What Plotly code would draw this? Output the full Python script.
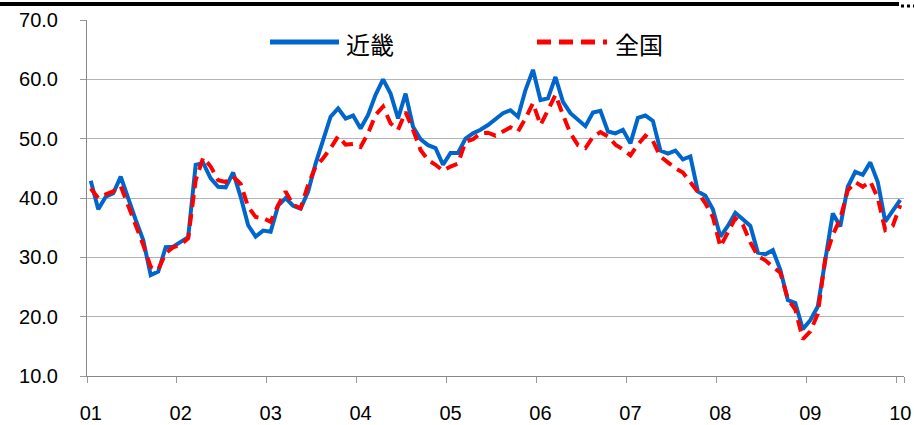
import plotly.graph_objects as go

# monthly, Jan 2001 - Jan 2010
months = [f"{y:02d}/{m:02d}" for y in range(1, 11) for m in range(1, 13)][:109]

kinki = [
    42.9, 38.1, 40.2, 40.8, 43.6, 39.7, 36.3, 32.9, 27.0, 27.6, 31.7, 31.8,
    32.6, 33.4, 45.6, 45.9, 43.3, 41.9, 41.8, 44.3, 40.2, 35.4, 33.5, 34.5,
    34.3, 38.7, 40.0, 38.7, 38.2, 41.1, 45.8, 49.8, 53.7, 55.1, 53.4, 53.9,
    51.7, 54.0, 57.4, 60.0, 57.6, 53.4, 57.6, 52.0, 49.9, 48.9, 48.4, 45.6,
    47.6, 47.6, 50.0, 50.9, 51.5, 52.3, 53.2, 54.3, 54.8, 53.7, 58.2, 61.6,
    56.5, 56.8, 60.4, 56.2, 54.3, 53.3, 52.1, 54.4, 54.7, 51.2, 50.9, 51.5,
    49.2, 53.5, 53.9, 53.0, 48.0, 47.5, 48.0, 46.5, 47.0, 41.1, 40.4, 38.1,
    33.5, 35.3, 37.5, 36.4, 35.3, 30.8, 30.5, 31.2, 27.9, 22.8, 22.3, 17.9,
    19.4, 21.7, 30.1, 37.4, 35.2, 41.9, 44.4, 43.9, 46.0, 42.7, 36.0, 38.0,
    39.7,
]

zenkoku = [
    41.6, 40.0, 40.6, 41.1, 42.0, 38.5, 35.4, 32.1, 28.4, 27.9, 30.7, 31.7,
    32.1, 33.2, 43.0, 46.8, 45.3, 43.0, 42.7, 43.6, 42.4, 38.5, 36.8, 36.6,
    36.0, 38.8, 41.1, 38.8, 38.3, 42.2, 45.3, 46.7, 48.4, 50.4, 49.0, 49.1,
    48.6, 50.9, 54.0, 55.4, 52.6, 51.5, 54.5, 51.5, 48.1, 46.4, 45.6, 44.6,
    45.3, 45.8, 49.5, 49.9, 50.9, 51.0, 50.5, 51.2, 51.9, 51.2, 53.4, 56.0,
    52.3, 54.8, 57.4, 54.0, 50.9, 48.9, 48.4, 50.3, 51.1, 50.4, 49.0, 48.2,
    47.2, 49.0, 50.5, 49.6, 47.0, 46.0, 45.0, 44.3, 42.7, 41.0, 39.1, 36.8,
    31.8, 34.3, 36.6, 35.5, 32.5, 30.2, 29.5, 28.4, 27.4, 23.0, 21.2, 16.2,
    17.5, 20.5, 29.8, 33.8, 36.5, 41.3, 42.7, 41.9, 42.8, 40.0, 34.6, 35.3,
    38.8,
]

year_labels = ["01", "02", "03", "04", "05", "06", "07", "08", "09", "10"]

blue = "#0066CC"
red = "#FF0000"

fig = go.Figure()
fig.add_trace(go.Scatter(x=months, y=kinki, mode="lines", name="近畿",
                         line=dict(color=blue, width=4)))
fig.add_trace(go.Scatter(x=months, y=zenkoku, mode="lines", name="全国",
                         line=dict(color=red, width=4, dash="12px,7px")))

fig.update_layout(
    width=914, height=425,
    margin=dict(l=87, r=10, t=20, b=49),
    paper_bgcolor="white", plot_bgcolor="white",
    showlegend=False,
    font=dict(family="Liberation Sans, Arial, sans-serif", size=20, color="black"),
)

fig.update_xaxes(
    type="category", range=[-0.5, 108.5], automargin=False,
    tickmode="array", tickvals=months[::12], ticktext=year_labels, tickangle=0,
    tickson="boundaries", ticks="outside", ticklen=6, tickcolor="#999999",
    showline=True, linecolor="#888888", linewidth=1,
    showgrid=False, ticklabelstandoff=19,
)
fig.update_yaxes(
    range=[10, 70], dtick=10, tickformat=".1f", automargin=False,
    ticks="outside", ticklen=6, tickcolor="#999999",
    showline=True, linecolor="#888888", linewidth=1,
    showgrid=True, gridcolor="#B4B4B4", gridwidth=1,
    ticklabelstandoff=18, zeroline=False,
)

# legend drawn by hand, long samples like the original
def px_x(p):
    return (p - 87) / 817

def px_y(p):
    return (376 - p) / 356

fig.add_shape(type="line", xref="paper", yref="paper",
              x0=px_x(270), x1=px_x(339), y0=px_y(42), y1=px_y(42),
              line=dict(color=blue, width=5))
fig.add_shape(type="line", xref="paper", yref="paper",
              x0=px_x(537), x1=px_x(607), y0=px_y(42), y1=px_y(42),
              line=dict(color=red, width=5, dash="14px,8px"))
fig.add_annotation(text="近畿", xref="paper", yref="paper", x=px_x(344), y=px_y(43),
                   xanchor="left", yanchor="middle", showarrow=False,
                   font=dict(family="Noto Sans CJK JP", size=24))
fig.add_annotation(text="全国", xref="paper", yref="paper", x=px_x(613), y=px_y(43),
                   xanchor="left", yanchor="middle", showarrow=False,
                   font=dict(family="Noto Sans CJK JP", size=24))

# frame edge at top
fig.add_shape(type="line", xref="paper", yref="paper",
              x0=px_x(0), x1=px_x(899), y0=px_y(4), y1=px_y(4),
              line=dict(color="black", width=4))
fig.add_shape(type="line", xref="paper", yref="paper",
              x0=px_x(901), x1=px_x(914), y0=px_y(6), y1=px_y(6),
              line=dict(color="black", width=3, dash="dot"))

# page body has a default 8px margin; drop it so the figure fills the window
fig.write_html("out.html", config={"displayModeBar": False},
               post_script="document.body.style.margin='0';")
